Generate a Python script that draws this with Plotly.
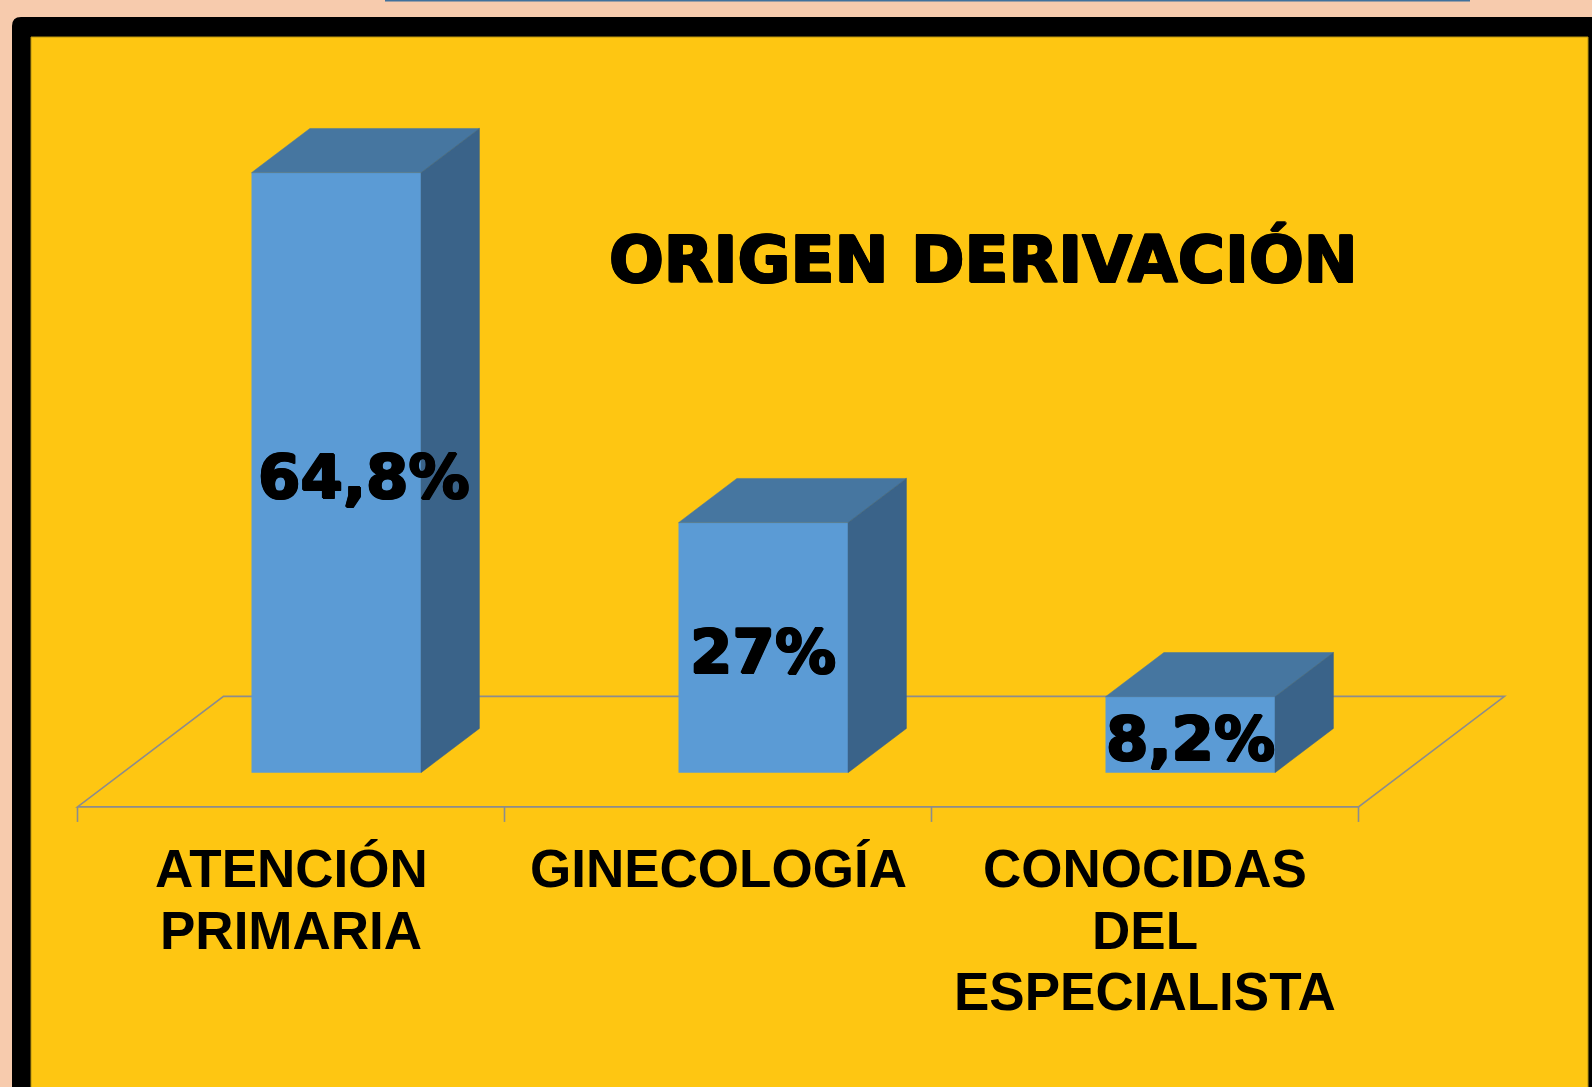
import plotly.graph_objects as go

# ---------------- data ----------------
categories = ["ATENCIÓN<br>PRIMARIA", "GINECOLOGÍA", "CONOCIDAS<br>DEL<br>ESPECIALISTA"]
values = [64.8, 27.0, 8.2]
value_labels = ["64,8%", "27%", "8,2%"]
chart_title = "ORIGEN DERIVACIÓN"

# ---------------- geometry / style ----------------
W, H = 1592, 1087
PX_CAT = 427.0          # pixels per category
PX_PCT = 9.259          # pixels per percent
X0_PX = 291.0           # pixel x of category 0 (floor front)
Y0_PX = 806.9           # pixel y of value 0 (floor front)
DXF = 146.0 / PX_CAT    # floor depth in x units
DYF = 110.5 / PX_PCT    # floor depth in y units
T0, T1 = 0.31, 0.71     # bar depth range within floor
HW = 0.1985             # half bar width (category units)

FRONT = "#5B9BD5"
TOP = "#4676A0"
SIDE = "#3A6389"
YELLOW = "#FEC612"
PEACH = "#F7CBAD"
FLOOR = "#8C8C8C"

xr = [-X0_PX / PX_CAT, (W - X0_PX) / PX_CAT]
yr = [-(H - Y0_PX) / PX_PCT, Y0_PX / PX_PCT]


def proj(x, v, t):
    return x + t * DXF, v + t * DYF


fig = go.Figure()

n = len(values)
# front faces as bars
fig.add_trace(go.Bar(
    x=[i + T0 * DXF for i in range(n)],
    y=values,
    base=[T0 * DYF] * n,
    width=2 * HW,
    marker=dict(color=FRONT, line=dict(width=0)),
    hoverinfo="skip",
    showlegend=False,
))

# top and side faces
for i, v in enumerate(values):
    c = float(i)
    top = [proj(c - HW, v, T0), proj(c + HW, v, T0), proj(c + HW, v, T1), proj(c - HW, v, T1), proj(c - HW, v, T0)]
    side = [proj(c + HW, 0, T0), proj(c + HW, v, T0), proj(c + HW, v, T1), proj(c + HW, 0, T1), proj(c + HW, 0, T0)]
    for pts, col in ((top, TOP), (side, SIDE)):
        fig.add_trace(go.Scatter(
            x=[p[0] for p in pts], y=[p[1] for p in pts],
            mode="lines", fill="toself", fillcolor=col,
            line=dict(color=col, width=0.5),
            hoverinfo="skip", showlegend=False,
        ))

# floor (below bars) as data shapes
xa, xb = -0.5, n - 0.5
corners = [proj(xa, 0, 0), proj(xb, 0, 0), proj(xb, 0, 1), proj(xa, 0, 1)]
path = "M " + " L ".join(f"{px},{py}" for px, py in corners) + " Z"
shapes = []
# frame (paper)
shapes.append(dict(type="path", xref="paper", yref="paper", layer="below",
                   path=f"M {12/W},{-0.02} L {12/W},{1-26/H} Q {12/W},{1-17/H} {21/W},{1-17/H} "
                        f"L {1.01},{1-17/H} L {1.01},{-0.02} Z",
                   fillcolor="black", line=dict(width=0)))
shapes.append(dict(type="rect", xref="paper", yref="paper", layer="below",
                   x0=31/W, x1=1588/W, y0=-0.02, y1=1-37/H,
                   fillcolor=YELLOW, line=dict(color="#B8930E", width=1)))
shapes.append(dict(type="rect", xref="paper", yref="paper", layer="below",
                   x0=385/W, x1=1470/W, y0=1-1.5/H, y1=1.01,
                   fillcolor="#41719C", line=dict(width=0)))
shapes.append(dict(type="path", xref="x", yref="y", layer="below", path=path,
                   line=dict(color=FLOOR, width=1.6)))
tick_len = 15 / PX_PCT
for k in range(n + 1):
    xt = xa + k
    shapes.append(dict(type="line", xref="x", yref="y", layer="below",
                       x0=xt, x1=xt, y0=0, y1=-tick_len,
                       line=dict(color=FLOOR, width=1.6)))

annotations = []
EMB = "1px 0px 0px black, -1px 0px 0px black, 0px 1px 0px black, 0px -1px 0px black, 1px 1px 0px black, -1px -1px 0px black"
HEAVY = dict(family="DejaVu Sans, Arial Black, sans-serif", color="black", weight="bold", shadow=EMB)
annotations.append(dict(text=chart_title, xref="paper", yref="paper",
                        x=983 / W, y=1 - 260 / H, showarrow=False,
                        xanchor="center", yanchor="middle",
                        font=dict(size=64.5, **HEAVY)))
label_xshift = [28, 0, 0]
for i, (v, lab) in enumerate(zip(values, value_labels)):
    annotations.append(dict(text=lab, x=i + T0 * DXF, y=v / 2 + 3.3, xref="x", yref="y",
                            showarrow=False, xanchor="center", yanchor="middle",
                            xshift=label_xshift[i],
                            font=dict(size=61, **HEAVY)))
for i, cat in enumerate(categories):
    for k, line in enumerate(cat.split("<br>")):
        annotations.append(dict(text=line, x=i, y=0, xref="x", yref="y",
                                yshift=-(62 + 61.3 * k), showarrow=False,
                                xanchor="center", yanchor="middle",
                                font=dict(family="Arial, Liberation Sans, sans-serif",
                                          size=53, color="black", weight="bold")))

fig.update_layout(
    width=W, height=H,
    margin=dict(l=0, r=0, t=0, b=0, pad=0),
    paper_bgcolor=PEACH, plot_bgcolor="rgba(0,0,0,0)",
    barmode="overlay",
    xaxis=dict(range=xr, visible=False, fixedrange=True),
    yaxis=dict(range=yr, visible=False, fixedrange=True),
    shapes=shapes, annotations=annotations,
    showlegend=False,
)

fig.write_html(
    "out.html",
    config={"displayModeBar": False},
    post_script="document.body.style.margin='0';document.body.style.background='" + PEACH + "';",
)
